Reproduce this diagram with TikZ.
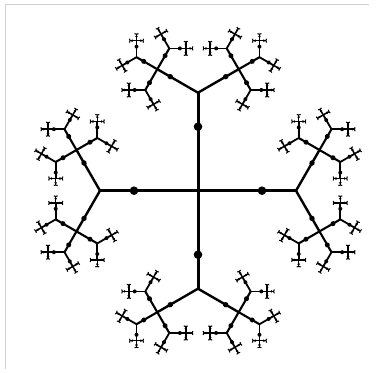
\documentclass[tikz,border=0pt]{standalone}
\begin{document}
\begin{tikzpicture}[x=1pt, y=1pt]
  \useasboundingbox (0,0) rectangle (376,373);
  \draw[gray!35, line width=1.5pt] (5.5,4) -- (5.5,368.5) -- (369,368.5);
  \foreach \a in {0,90,180,270} {
    \begin{scope}[shift={(198,182.3)}, rotate=\a]
      \draw[line width=3pt] (0,0) -- (98,0);
      \fill (64,0) circle (4.3);
      \foreach \s in {60,-60} {
        \begin{scope}[shift={(98,0)}, rotate=\s]
          \draw[line width=2.4pt] (0,0) -- (47,0);
          \fill (32,0) circle (2.7);
          \foreach \c in {0,90,-90} {
            \begin{scope}[shift={(47,0)}, rotate=\c]
              \draw[line width=2.1pt] (0,0) -- (24,0);
              \fill (15.6,0) circle (2.5);
              \foreach \t in {60,-60} {
                \begin{scope}[shift={(24,0)}, rotate=\t]
                  \draw[line width=1.8pt] (0,0) -- (16.5,0);
                  \fill (10.6,0) circle (2.0);
                  \foreach \d in {0,90,-90} {
                    \begin{scope}[shift={(16.5,0)}, rotate=\d]
                      \draw[line width=1.5pt] (0,0) -- (6.5,0);
                      \fill (4.3,0) circle (1.3);
                      \draw[line width=1.1pt] (6.5,0) ++(75:2) -- (6.5,0) -- ++(-75:2);
                    \end{scope}
                  }
                \end{scope}
              }
            \end{scope}
          }
        \end{scope}
      }
    \end{scope}
  }
\end{tikzpicture}
\end{document}
